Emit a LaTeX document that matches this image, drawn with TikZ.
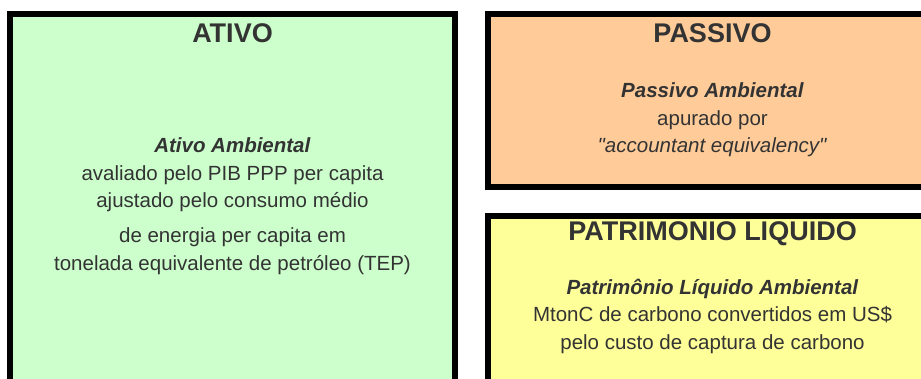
\documentclass[tikz,border=0pt]{standalone}
\usepackage{fontspec}
\newfontfamily\arial{Liberation Sans}
\usepackage{xcolor}
\usepackage{tikz}
\usetikzlibrary{positioning}
\definecolor{verdeativo}{HTML}{CCFFCC}
\definecolor{laranjapassivo}{HTML}{FFCC99}
\definecolor{amarelopl}{HTML}{FFFF99}
\definecolor{textocinza}{HTML}{333333}

\begin{document}
\begin{tikzpicture}[x=1pt,y=-1pt,
	caixa/.style={rectangle, draw=black, line width=6pt, anchor=north west, inner sep=0pt, outer sep=0pt},
	titulo/.style={font=\arial\fontsize{27pt}{32pt}\selectfont\bfseries, text=textocinza, inner sep=0pt},
	corpo/.style={font=\arial\fontsize{20.5pt}{27.5pt}\selectfont, text=textocinza, align=center, inner sep=0pt, anchor=north}]
			\useasboundingbox (0,0) rectangle (921,378);
			\clip (0,0) rectangle (921,378);
			\node[caixa, fill=verdeativo, minimum width=445pt, minimum height=382pt] (ativo) at (10,14){};
			\node[caixa, fill=laranjapassivo, minimum width=449pt, minimum height=173pt] (passivo) at (488,14){};
			\node[caixa, fill=amarelopl, minimum width=449pt, minimum height=200pt] (pl) at (488,216){};
			\node[titulo, below=28pt of ativo.north, anchor=base] (tativo) {ATIVO};
			\node[titulo, below=28pt of passivo.north, anchor=base] (tpassivo) {PASSIVO};
			\node[titulo, below=24pt of pl.north, anchor=base] (tpl) {PATRIMONIO LIQUIDO};
			\node[corpo, below=95pt of tativo] (cativo) {\textbf{\textit{Ativo Ambiental}}\\
					avaliado pelo PIB PPP per capita\\
					ajustado pelo consumo médio\\[7.5pt]
					de energia per capita em\\
					tonelada equivalente de petróleo (TEP)};
			\node[corpo, below=40pt of tpassivo] (cpassivo) {\textbf{\textit{Passivo Ambiental}}\\
					apurado por\\
					\textit{"accountant equivalency"}};
			\node[corpo, below=33pt of tpl] (cpl) {\textbf{\textit{Patrimônio Líquido Ambiental}}\\
					MtonC de carbono convertidos em US\$\\
					pelo custo de captura de carbono};
		\end{tikzpicture}
\end{document}
